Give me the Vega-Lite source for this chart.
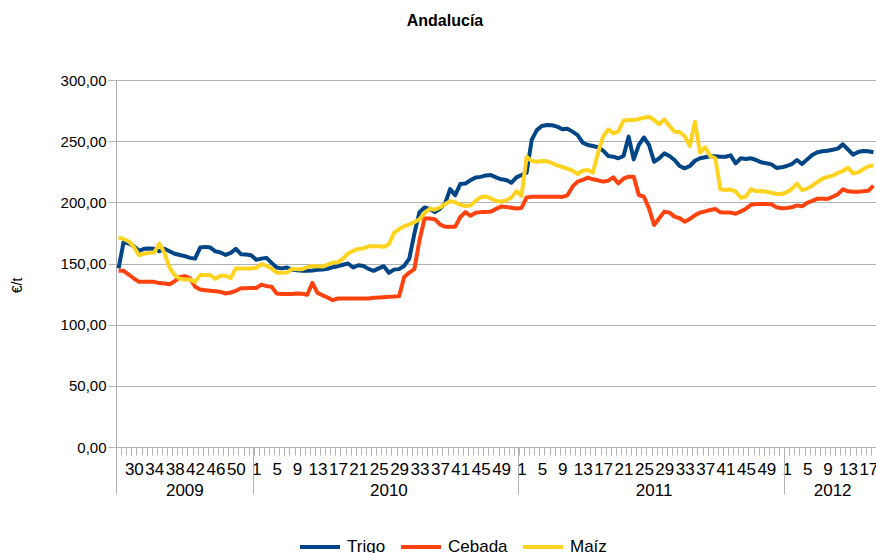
{
 "$schema": "https://vega.github.io/schema/vega-lite/v6.json",
 "width": 760,
 "height": 367,
 "autosize": {"type": "none"},
 "padding": {"left": 116, "top": 80, "right": 0, "bottom": 106},
 "background": "white",
 "config": {"font": "Liberation Sans", "view": {"stroke": null}},
 "title": {"text": "Andalucía", "fontSize": 16, "fontWeight": "bold", "color": "#000000", "offset": 44, "dx": -51},
 "data": {"values": [
  {"s":"2009-27","Trigo":146,"Cebada":144,"Maíz":171.3},
  {"s":"2009-28","Trigo":167.7,"Cebada":144,"Maíz":170},
  {"s":"2009-29","Trigo":166.3,"Cebada":141,"Maíz":168},
  {"s":"2009-30","Trigo":164,"Cebada":137.7,"Maíz":163.6},
  {"s":"2009-31","Trigo":160.4,"Cebada":135,"Maíz":156.8},
  {"s":"2009-32","Trigo":162,"Cebada":135,"Maíz":158},
  {"s":"2009-33","Trigo":162.3,"Cebada":135,"Maíz":158.7},
  {"s":"2009-34","Trigo":162,"Cebada":135,"Maíz":159},
  {"s":"2009-35","Trigo":160,"Cebada":134,"Maíz":166.3},
  {"s":"2009-36","Trigo":162,"Cebada":133.6,"Maíz":158.7},
  {"s":"2009-37","Trigo":160,"Cebada":133,"Maíz":146.7},
  {"s":"2009-38","Trigo":158,"Cebada":135.5,"Maíz":140.5},
  {"s":"2009-39","Trigo":157,"Cebada":139,"Maíz":137.5},
  {"s":"2009-40","Trigo":156,"Cebada":139.6,"Maíz":137},
  {"s":"2009-41","Trigo":154.6,"Cebada":138,"Maíz":137},
  {"s":"2009-42","Trigo":154,"Cebada":131,"Maíz":135},
  {"s":"2009-43","Trigo":163,"Cebada":128.7,"Maíz":140.5},
  {"s":"2009-44","Trigo":163.6,"Cebada":128.2,"Maíz":140.5},
  {"s":"2009-45","Trigo":163,"Cebada":127.7,"Maíz":140.5},
  {"s":"2009-46","Trigo":160,"Cebada":127.4,"Maíz":137.5},
  {"s":"2009-47","Trigo":159,"Cebada":126.8,"Maíz":140},
  {"s":"2009-48","Trigo":157,"Cebada":125.5,"Maíz":140},
  {"s":"2009-49","Trigo":158.7,"Cebada":126.3,"Maíz":138},
  {"s":"2009-50","Trigo":162,"Cebada":127.7,"Maíz":146},
  {"s":"2009-51","Trigo":157.6,"Cebada":129.8,"Maíz":146},
  {"s":"2009-52","Trigo":157.4,"Cebada":129.8,"Maíz":146},
  {"s":"2009-53","Trigo":156.8,"Cebada":130,"Maíz":146},
  {"s":"2010-1","Trigo":153,"Cebada":130,"Maíz":146.5},
  {"s":"2010-2","Trigo":154,"Cebada":132.8,"Maíz":149.5},
  {"s":"2010-3","Trigo":154.6,"Cebada":131.5,"Maíz":148},
  {"s":"2010-4","Trigo":150.5,"Cebada":131,"Maíz":146},
  {"s":"2010-5","Trigo":146.7,"Cebada":125.5,"Maíz":142.4},
  {"s":"2010-6","Trigo":146,"Cebada":125,"Maíz":142.4},
  {"s":"2010-7","Trigo":146.7,"Cebada":125,"Maíz":142.6},
  {"s":"2010-8","Trigo":145,"Cebada":125,"Maíz":145.6},
  {"s":"2010-9","Trigo":144.5,"Cebada":125.5,"Maíz":145.4},
  {"s":"2010-10","Trigo":144,"Cebada":125.3,"Maíz":145.4},
  {"s":"2010-11","Trigo":144,"Cebada":124.5,"Maíz":147},
  {"s":"2010-12","Trigo":144.3,"Cebada":134.2,"Maíz":148},
  {"s":"2010-13","Trigo":144.8,"Cebada":126,"Maíz":147.8},
  {"s":"2010-14","Trigo":145,"Cebada":124,"Maíz":147.5},
  {"s":"2010-15","Trigo":145.6,"Cebada":122.2,"Maíz":149.2},
  {"s":"2010-16","Trigo":147,"Cebada":120,"Maíz":150.8},
  {"s":"2010-17","Trigo":147.8,"Cebada":121.4,"Maíz":151},
  {"s":"2010-18","Trigo":149,"Cebada":121.4,"Maíz":154},
  {"s":"2010-19","Trigo":150,"Cebada":121.4,"Maíz":158.2},
  {"s":"2010-20","Trigo":146.7,"Cebada":121.4,"Maíz":160.4},
  {"s":"2010-21","Trigo":148.6,"Cebada":121.4,"Maíz":162},
  {"s":"2010-22","Trigo":148,"Cebada":121.4,"Maíz":162.3},
  {"s":"2010-23","Trigo":145.6,"Cebada":121.4,"Maíz":164},
  {"s":"2010-24","Trigo":144,"Cebada":122,"Maíz":164},
  {"s":"2010-25","Trigo":146,"Cebada":122.2,"Maíz":164},
  {"s":"2010-26","Trigo":147.8,"Cebada":122.5,"Maíz":163.6},
  {"s":"2010-27","Trigo":142.4,"Cebada":122.8,"Maíz":165.8},
  {"s":"2010-28","Trigo":145,"Cebada":123,"Maíz":175},
  {"s":"2010-29","Trigo":145.4,"Cebada":123.3,"Maíz":178},
  {"s":"2010-30","Trigo":148,"Cebada":139,"Maíz":180.5},
  {"s":"2010-31","Trigo":154,"Cebada":142.6,"Maíz":181.9},
  {"s":"2010-32","Trigo":174.5,"Cebada":145.4,"Maíz":183.8},
  {"s":"2010-33","Trigo":192,"Cebada":169,"Maíz":186.2},
  {"s":"2010-34","Trigo":195.8,"Cebada":186.8,"Maíz":191.4},
  {"s":"2010-35","Trigo":194.7,"Cebada":186.8,"Maíz":194.7},
  {"s":"2010-36","Trigo":192,"Cebada":186.2,"Maíz":194},
  {"s":"2010-37","Trigo":194.7,"Cebada":182,"Maíz":195.8},
  {"s":"2010-38","Trigo":199,"Cebada":180,"Maíz":198.5},
  {"s":"2010-39","Trigo":210.8,"Cebada":180,"Maíz":201},
  {"s":"2010-40","Trigo":205.9,"Cebada":180,"Maíz":200},
  {"s":"2010-41","Trigo":214.9,"Cebada":188,"Maíz":198},
  {"s":"2010-42","Trigo":215.4,"Cebada":192,"Maíz":197},
  {"s":"2010-43","Trigo":218,"Cebada":189,"Maíz":197.4},
  {"s":"2010-44","Trigo":220.3,"Cebada":191.4,"Maíz":201.2},
  {"s":"2010-45","Trigo":220.8,"Cebada":192,"Maíz":204.2},
  {"s":"2010-46","Trigo":222,"Cebada":192,"Maíz":204.8},
  {"s":"2010-47","Trigo":222.3,"Cebada":192.4,"Maíz":203.3},
  {"s":"2010-48","Trigo":220.4,"Cebada":194.6,"Maíz":201},
  {"s":"2010-49","Trigo":218.8,"Cebada":196.5,"Maíz":200.5},
  {"s":"2010-50","Trigo":218.3,"Cebada":196.2,"Maíz":201.6},
  {"s":"2010-51","Trigo":216,"Cebada":195.6,"Maíz":204},
  {"s":"2010-52","Trigo":220.4,"Cebada":195,"Maíz":209},
  {"s":"2011-1","Trigo":222.3,"Cebada":195.4,"Maíz":205.2},
  {"s":"2011-2","Trigo":224.3,"Cebada":204,"Maíz":237.3},
  {"s":"2011-3","Trigo":251,"Cebada":204.6,"Maíz":233.8},
  {"s":"2011-4","Trigo":259,"Cebada":204.6,"Maíz":233.2},
  {"s":"2011-5","Trigo":262.4,"Cebada":204.6,"Maíz":233.8},
  {"s":"2011-6","Trigo":263.2,"Cebada":204.6,"Maíz":233.5},
  {"s":"2011-7","Trigo":263,"Cebada":204.6,"Maíz":232},
  {"s":"2011-8","Trigo":261.9,"Cebada":204.6,"Maíz":230.2},
  {"s":"2011-9","Trigo":259.7,"Cebada":204.4,"Maíz":228.9},
  {"s":"2011-10","Trigo":260.2,"Cebada":205.7,"Maíz":227.5},
  {"s":"2011-11","Trigo":257.8,"Cebada":212.8,"Maíz":225.9},
  {"s":"2011-12","Trigo":255,"Cebada":216.9,"Maíz":223.2},
  {"s":"2011-13","Trigo":248.8,"Cebada":218.3,"Maíz":225.9},
  {"s":"2011-14","Trigo":246.9,"Cebada":220.2,"Maíz":226.4},
  {"s":"2011-15","Trigo":246,"Cebada":218.8,"Maíz":224.3},
  {"s":"2011-16","Trigo":245,"Cebada":218,"Maíz":240.6},
  {"s":"2011-17","Trigo":242.2,"Cebada":216.9,"Maíz":253.7},
  {"s":"2011-18","Trigo":237.9,"Cebada":217.7,"Maíz":259.7},
  {"s":"2011-19","Trigo":237.3,"Cebada":220.4,"Maíz":256.4},
  {"s":"2011-20","Trigo":236,"Cebada":215.5,"Maíz":258},
  {"s":"2011-21","Trigo":237.9,"Cebada":219.3,"Maíz":266.8},
  {"s":"2011-22","Trigo":253.7,"Cebada":221,"Maíz":267.3},
  {"s":"2011-23","Trigo":235.1,"Cebada":221,"Maíz":267.3},
  {"s":"2011-24","Trigo":246.9,"Cebada":206,"Maíz":268.1},
  {"s":"2011-25","Trigo":253,"Cebada":204.6,"Maíz":269.2},
  {"s":"2011-26","Trigo":246.9,"Cebada":195.1,"Maíz":270},
  {"s":"2011-27","Trigo":233.2,"Cebada":181.5,"Maíz":267.3},
  {"s":"2011-28","Trigo":236,"Cebada":187,"Maíz":263.8},
  {"s":"2011-29","Trigo":240,"Cebada":192.4,"Maíz":267.8},
  {"s":"2011-30","Trigo":237.9,"Cebada":191.6,"Maíz":262.4},
  {"s":"2011-31","Trigo":234.6,"Cebada":188.3,"Maíz":257.8},
  {"s":"2011-32","Trigo":229.7,"Cebada":187,"Maíz":257.5},
  {"s":"2011-33","Trigo":227.8,"Cebada":184.2,"Maíz":254},
  {"s":"2011-34","Trigo":229.7,"Cebada":186.4,"Maíz":246},
  {"s":"2011-35","Trigo":234,"Cebada":189.4,"Maíz":265.9},
  {"s":"2011-36","Trigo":236,"Cebada":191.6,"Maíz":240.6},
  {"s":"2011-37","Trigo":236.8,"Cebada":192.6,"Maíz":245},
  {"s":"2011-38","Trigo":237.6,"Cebada":193.7,"Maíz":237.9},
  {"s":"2011-39","Trigo":237.6,"Cebada":194.6,"Maíz":236},
  {"s":"2011-40","Trigo":237.3,"Cebada":191.8,"Maíz":210.6},
  {"s":"2011-41","Trigo":237.3,"Cebada":191.6,"Maíz":210},
  {"s":"2011-42","Trigo":238.4,"Cebada":191.6,"Maíz":210.4},
  {"s":"2011-43","Trigo":231.9,"Cebada":190.7,"Maíz":208.7},
  {"s":"2011-44","Trigo":236,"Cebada":192.6,"Maíz":203.8},
  {"s":"2011-45","Trigo":235.4,"Cebada":194.8,"Maíz":204.6},
  {"s":"2011-46","Trigo":236,"Cebada":198,"Maíz":210.9},
  {"s":"2011-47","Trigo":234.6,"Cebada":198.6,"Maíz":209},
  {"s":"2011-48","Trigo":232.7,"Cebada":198.6,"Maíz":209.3},
  {"s":"2011-49","Trigo":231.9,"Cebada":198.6,"Maíz":208.7},
  {"s":"2011-50","Trigo":231,"Cebada":198.4,"Maíz":207.9},
  {"s":"2011-51","Trigo":228.1,"Cebada":195.9,"Maíz":206.8},
  {"s":"2011-52","Trigo":228.6,"Cebada":195.1,"Maíz":206.8},
  {"s":"2012-1","Trigo":229.7,"Cebada":195.4,"Maíz":208.2},
  {"s":"2012-2","Trigo":231.3,"Cebada":195.9,"Maíz":210.9},
  {"s":"2012-3","Trigo":234.6,"Cebada":197.5,"Maíz":215.3},
  {"s":"2012-4","Trigo":231.3,"Cebada":196.7,"Maíz":210},
  {"s":"2012-5","Trigo":235.1,"Cebada":199.5,"Maíz":211.2},
  {"s":"2012-6","Trigo":238.7,"Cebada":201.1,"Maíz":213.6},
  {"s":"2012-7","Trigo":240.9,"Cebada":203,"Maíz":216.6},
  {"s":"2012-8","Trigo":241.7,"Cebada":203,"Maíz":219.3},
  {"s":"2012-9","Trigo":242.2,"Cebada":202.7,"Maíz":220.7},
  {"s":"2012-10","Trigo":243,"Cebada":204.6,"Maíz":221.8},
  {"s":"2012-11","Trigo":243.9,"Cebada":206.5,"Maíz":224},
  {"s":"2012-12","Trigo":247.4,"Cebada":210.6,"Maíz":225.6},
  {"s":"2012-13","Trigo":243.3,"Cebada":209,"Maíz":228.3},
  {"s":"2012-14","Trigo":239,"Cebada":208.7,"Maíz":223.7},
  {"s":"2012-15","Trigo":241.1,"Cebada":208.7,"Maíz":224.5},
  {"s":"2012-16","Trigo":242,"Cebada":209,"Maíz":227},
  {"s":"2012-17","Trigo":241.7,"Cebada":209.5,"Maíz":229.4},
  {"s":"2012-18","Trigo":240.9,"Cebada":213.6,"Maíz":230.2}
 ]},
 "transform": [{"fold": ["Trigo", "Cebada", "Maíz"], "as": ["serie", "valor"]}],
 "layer": [
  {
   "mark": {"type": "line", "strokeWidth": 4, "strokeJoin": "round"},
   "encoding": {
    "x": {"field": "s", "type": "ordinal", "sort": null,
     "scale": {"type": "band", "paddingInner": 0, "paddingOuter": 0},
     "axis": {"orient": "bottom", "title": null, "tickBand": "extent", "tickSize": 8, "tickColor": "#b3b3b3", "domainColor": "#b3b3b3", "grid": false,
      "labelExpr": "(split(datum.value,'-')[0]=='2009' ? (toNumber(split(datum.value,'-')[1])-2)%4==0 : (toNumber(split(datum.value,'-')[1])-1)%4==0) ? split(datum.value,'-')[1] : ''",
      "labelAngle": 0, "labelFontSize": 17, "labelColor": "#000000", "labelPadding": 6, "labelOverlap": false, "labelBound": false, "labelFlush": false}},
    "y": {"field": "valor", "type": "quantitative", "scale": {"domain": [0, 300]},
     "axis": {"title": "€/t", "titleFontSize": 14, "titleFontWeight": "normal", "titleColor": "#000000", "titlePadding": 36, "titleY": 205,
      "values": [0, 50, 100, 150, 200, 250, 300], "labelExpr": "replace(format(datum.value, '.2f'), '.', ',')",
      "labelFontSize": 15, "labelColor": "#000000", "labelPadding": 2, "tickSize": 8, "tickColor": "#b3b3b3", "domainColor": "#b3b3b3", "gridColor": "#b3b3b3", "grid": true}},
    "color": {"field": "serie", "type": "nominal",
     "scale": {"domain": ["Trigo", "Cebada", "Maíz"], "range": ["#004586", "#ff420e", "#ffd320"]},
     "legend": {"title": null, "orient": "none", "legendX": 182, "legendY": 445, "direction": "horizontal", "symbolType": "stroke", "symbolStrokeWidth": 4, "symbolSize": 1600,
      "labelFontSize": 17, "labelColor": "#000000", "columnPadding": 7, "labelOffset": 5}}
   }
  },
  {
   "mark": {"type": "point", "opacity": 0},
   "encoding": {
    "x": {"field": "s", "type": "ordinal", "sort": null,
     "scale": {"type": "band", "paddingInner": 0, "paddingOuter": 0},
     "axis": {"orient": "bottom", "title": null, "values": ["2009-27", "2010-1", "2011-1", "2012-1"], "bandPosition": 0, "tickSize": 47, "tickColor": "#b3b3b3", "labels": false, "domain": false, "grid": false}},
    "y": {"field": "valor", "type": "quantitative"}
   }
  },
  {
   "mark": {"type": "point", "opacity": 0},
   "encoding": {
    "x": {"field": "s", "type": "ordinal", "sort": null,
     "scale": {"type": "band", "paddingInner": 0, "paddingOuter": 0},
     "axis": {"orient": "bottom", "title": null, "values": ["2009-40", "2010-27", "2011-27", "2012-10"], "bandPosition": 0, "ticks": false, "tickSize": 0, "domain": false, "grid": false,
      "labelExpr": "split(datum.value,'-')[0]", "labelAngle": 0, "labelFontSize": 17, "labelColor": "#000000", "labelPadding": 35, "labelOverlap": false}},
    "y": {"field": "valor", "type": "quantitative"}
   }
  }
 ],
 "resolve": {"axis": {"x": "independent"}}
}
